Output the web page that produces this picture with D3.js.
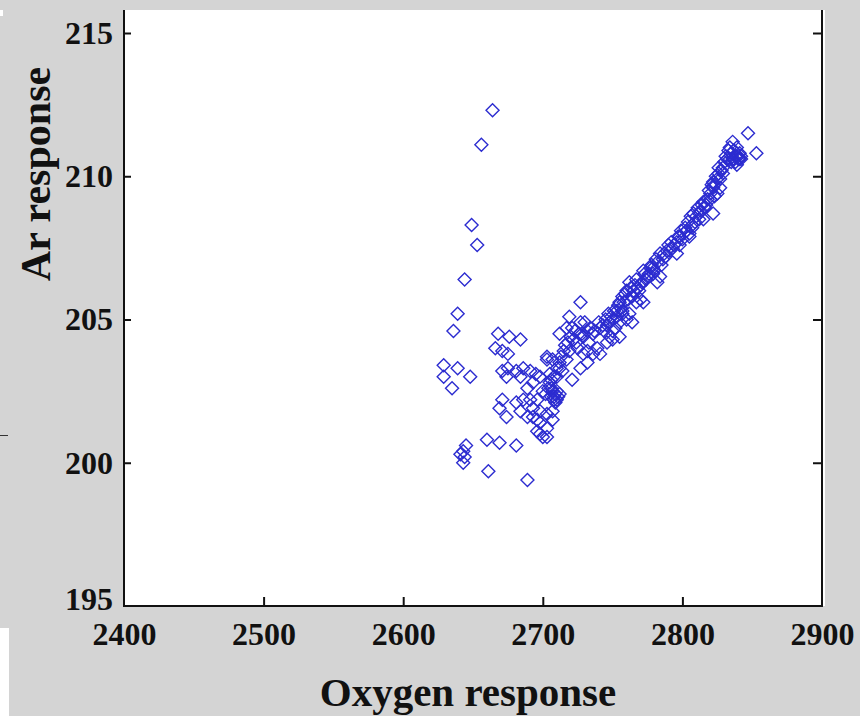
<!DOCTYPE html>
<html>
<head>
<meta charset="utf-8">
<script src="https://cdn.jsdelivr.net/npm/d3@7"></script>
<style>
  html, body { margin: 0; padding: 0; background: #d4d4d4; }
  svg { display: block; }
  text { font-family: "Liberation Serif", "Times New Roman", serif; font-weight: bold; fill: #111; }
</style>
</head>
<body>
<svg id="chart" width="860" height="716"></svg>
<script>
// ---- data ----
const xTicks = [2400, 2500, 2600, 2700, 2800, 2900];
const yTicks = [195, 200, 205, 210, 215];
const xLabel = "Oxygen response";
const yLabel = "Ar response";

const oxygen = [
  2664,2656,2649,2653,2644,2639,2636,2727,
  2629,2639,2648,2629,2635,
  2643,2644,2641,2645,2643,2660,2669,2681,2661,2689,
  2668,2676,2684,2666,2671,2675,2671,2675,2681,2686,2691,2674,2684,2695,2703,2671,2669,2674,2684,2691,2689,2696,2696,2700,2681,2693,
  2719,2712,2717,2721,2727,2732,2736,2741,2748,2753,2757,2724,2719,2732,2736,2739,2703,2707,2712,2717,2727,2732,2705,2710,2714,2721,2698,2693,2689,2700,2706,2710,2712,2696,2686,2698,2703,2707,2693,2698,2703,2707,2698,2703,
  2707,2709,2708,2706,2710,2711,2708,2709,
  2746,2750,2755,2741,
  2817,2822,2812,2807,2803,2805,2798,2796,2791,2796,2784,2786,2782,2777,2779,2772,2774,2782,2784,2767,2762,2760,2764,2770,2767,2772,2757,2755,2753,2757,2762,2760,2764,2755,2750,2750,2748,
  2847,2853,2839,2836,2834,2841,2832,2836,2841,2839,2829,2829,2825,2822,2827,2820,2825,2820,2815,2823,2812,2810,2815,2807,2805,
  2833,2835,2837,2838,2840,2842,2822,2824,2826,2827,2828,2823,2837,2838,2840,2842,
  2765,2768,2770,2775,2778,2780,2788,2790,2793,2798,2800,2801,2809,2813,2816,
  2722,2726,2729,2733,2744,2746,2752,2725,2729,
  2702,2704,2705,2706,2708,2710,2712,2713,2715,2716,2718,2720,2723,2728,2730,2734,2737,2740,2743,2745,
  2747,2749,2751,2754,2756,2758,2759,2761,2763,2766,2769,2771,2773,2776,2779,2781,2785,2787,2789,2792,
  2794,2797,2799,2802,2804,2806,2808,2811,2814,2818,2819,2821,2826,2830,2831,2834,2835
];
const ar = [
  212.3,211.1,208.3,207.6,206.4,205.2,204.6,205.6,
  203.4,203.3,203.0,203.0,202.6,
  200.4,200.2,200.3,200.6,200.0,200.8,200.7,200.6,199.7,199.4,
  204.5,204.4,204.3,204.0,203.9,203.8,203.2,203.3,203.2,203.3,203.2,203.0,203.0,203.1,203.6,202.2,201.9,201.6,201.8,202.2,201.6,201.5,201.1,200.9,202.1,201.9,
  205.1,204.5,204.7,204.7,204.9,204.6,204.5,204.7,204.9,205.1,205.3,204.2,203.9,203.9,203.8,204.0,203.7,203.6,203.5,203.6,203.3,203.5,203.1,203.0,203.2,202.9,203.0,202.8,202.6,202.5,202.3,202.2,202.4,202.2,202.2,201.8,201.7,201.8,201.6,201.4,201.2,201.5,201.0,200.9,
  202.5,202.4,202.2,202.6,202.5,202.3,202.3,202.1,
  204.2,204.3,204.4,203.8,
  209.0,208.7,208.5,208.3,208.1,207.9,207.9,207.7,207.4,207.3,207.3,207.1,207.0,206.8,206.6,206.7,206.4,206.3,206.5,206.4,206.3,206.0,205.8,205.7,205.6,205.6,205.8,205.6,205.3,205.2,205.2,205.0,204.9,204.9,205.0,204.6,204.4,
  211.5,210.8,211.0,211.2,211.0,210.8,210.6,210.6,210.6,210.4,210.3,210.1,209.9,209.6,209.6,209.4,209.4,209.2,209.1,209.3,208.7,208.6,208.5,208.2,208.0,
  210.9,210.8,210.9,210.7,210.7,210.7,209.8,210.0,210.1,209.9,210.2,209.7,210.6,210.5,210.6,210.6,
  206.0,206.1,206.2,206.5,206.9,206.7,207.2,207.6,207.5,207.6,207.8,208.0,208.4,208.8,208.9,
  204.3,204.5,204.4,204.2,204.6,204.8,204.7,204.0,203.8,
  202.4,202.6,202.8,202.9,203.0,203.3,203.3,203.7,203.9,204.1,204.2,204.4,204.6,204.5,204.9,204.7,204.6,204.9,204.8,205.0,
  205.2,205.1,205.3,205.5,205.4,205.6,205.9,205.7,206.1,206.2,206.0,206.3,206.6,206.6,206.8,207.1,206.9,207.3,207.4,207.7,
  207.6,207.9,208.1,208.2,208.4,208.6,208.7,208.9,209.0,209.2,209.5,209.7,210.3,210.5,210.7,210.6,210.5
];

// ---- layout ----
const W = 860, H = 716;
const pLeft = 124, pRight = 822, pTop = 10, pBottom = 606;
const svg = d3.select("#chart");

const x = d3.scaleLinear().domain([2400, 2900]).range([pLeft, pRight]);
const y = d3.scaleLinear().domain([195, 215]).range([pBottom, 33]);

// background artifacts
svg.append("rect").attr("x", 0).attr("y", 0).attr("width", W).attr("height", H).attr("fill", "#d4d4d4");
svg.append("rect").attr("x", 0).attr("y", 628).attr("width", 9).attr("height", H - 628).attr("fill", "#ffffff");
svg.append("rect").attr("x", 0).attr("y", 10).attr("width", 3).attr("height", 6).attr("fill", "#ffffff");
svg.append("line").attr("x1", 0).attr("x2", 8).attr("y1", 435.5).attr("y2", 435.5).attr("stroke", "#333").attr("stroke-width", 1);

// plot area
svg.append("rect").attr("x", pLeft).attr("y", pTop).attr("width", pRight - pLeft + 3).attr("height", pBottom - pTop)
  .attr("fill", "#ffffff");

// points
const diamond = "M0,-6.5L6.5,0L0,6.5L-6.5,0Z";
svg.append("g").selectAll("path").data(oxygen.map((o, i) => [o, ar[i]])).join("path")
  .attr("d", diamond)
  .attr("transform", d => `translate(${x(d[0])},${y(d[1])})`)
  .attr("fill", "none")
  .attr("stroke", "#2c2cd0")
  .attr("stroke-width", 1.4);

// axes
const fs = 32;
const gx = svg.append("g").attr("transform", `translate(0,${pBottom})`)
  .call(d3.axisBottom(x).tickValues(xTicks).tickFormat(d3.format("d")).tickSize(-9).tickPadding(16));
const gy = svg.append("g").attr("transform", `translate(${pLeft},0)`)
  .call(d3.axisLeft(y).tickValues(yTicks).tickFormat(d3.format("d")).tickSize(-7).tickPadding(11));
const gr = svg.append("g").attr("transform", `translate(${pRight},0)`)
  .call(d3.axisRight(y).tickValues(yTicks).tickFormat("").tickSize(-9));
[gx, gy, gr].forEach(g => {
  g.select(".domain").remove();
  g.selectAll(".tick line").attr("stroke", "#111").attr("stroke-width", 2);
  g.selectAll("text").attr("font-size", fs).attr("fill", "#111")
    .attr("font-family", "'Liberation Serif', 'Times New Roman', serif").attr("font-weight", "bold");
});
gx.selectAll(".tick").filter(d => d === 2400 || d === 2900).select("line").remove();
gy.selectAll(".tick").filter(d => d === 195).select("line").remove();
gr.selectAll(".tick").filter(d => d === 195).select("line").remove();
// the lowest y label sits a little higher, just above the "2400" label
gy.selectAll(".tick").filter(d => d === 195).select("text").attr("dy", "0.12em");

// frame
svg.append("path")
  .attr("d", `M${pLeft},${pTop}V${pBottom}H${pRight}V${pTop}`)
  .attr("fill", "none").attr("stroke", "#111").attr("stroke-width", 2);

// axis titles
svg.append("text").attr("x", 468).attr("y", 706).attr("text-anchor", "middle")
  .attr("font-size", 41).text(xLabel);
svg.append("text").attr("transform", "translate(50,174) rotate(-90)").attr("text-anchor", "middle")
  .attr("font-size", 42).text(yLabel);
</script>
</body>
</html>
